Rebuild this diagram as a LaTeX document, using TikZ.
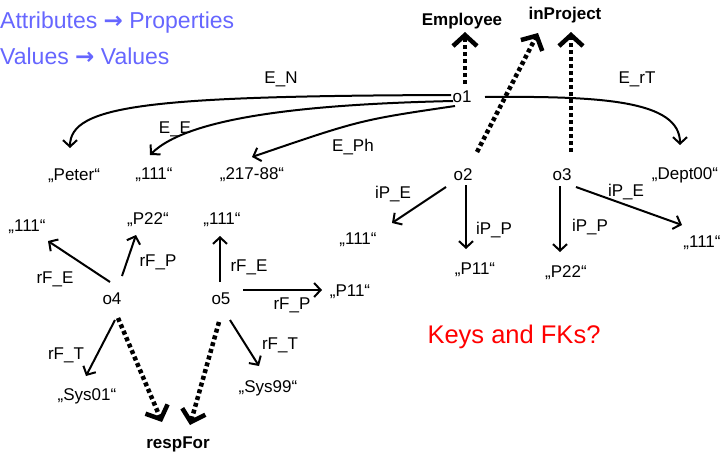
\documentclass[tikz,border=0pt]{standalone}
\usepackage{fontspec}
\setmainfont{Liberation Sans}
\newfontfamily\arrowfont{DejaVu Sans}
\usetikzlibrary{arrows.meta}
\definecolor{hdr}{RGB}{102,102,255}
\definecolor{keyred}{RGB}{255,0,0}
\newcommand\harr{{\arrowfont\bfseries →}}
\begin{document}
\begin{tikzpicture}[x=1pt,y=-1pt,
  txt/.style={anchor=base,inner sep=2pt,font=\fontsize{17}{19}\selectfont},
  cls/.style={anchor=base,inner sep=2pt,font=\fontsize{17}{19}\selectfont\bfseries},
  hdrtxt/.style={anchor=base west,inner sep=0pt,text=hdr,font=\fontsize{23}{25}\selectfont},
  rel/.style={line width=2pt,-{Straight Barb[length=6.5pt,width=14pt]}},
  inst/.style={line width=4.5pt,dash pattern=on 4pt off 3pt,-{Straight Barb[length=11pt,width=24pt]}},
]
\useasboundingbox (0,0) rectangle (724,453);

% header
\node[hdrtxt] (h1) at (0,28) {Attributes \harr\ Properties};
\node[hdrtxt] (h2) at (0,64) {Values \harr\ Values};

% classes
\node[cls] (emp) at (462,25) {Employee};
\node[cls] (inp) at (565,19) {inProject};
\node[cls] (rf) at (178,448) {respFor};

% objects
\node[txt] (o1) at (462,102) {o1};
\node[txt] (o2) at (463,180) {o2};
\node[txt] (o3) at (562,180) {o3};
\node[txt] (o4) at (112,304) {o4};
\node[txt] (o5) at (221,304) {o5};

% values
\node[txt] (peter) at (74,180) {„Peter“};
\node[txt] (t111) at (154,179) {„111“};
\node[txt] (ph) at (252,179) {„217-88“};
\node[txt] (dept) at (685,179) {„Dept00“};
\node[txt] (m2) at (358,244) {„111“};
\node[txt] (p11b) at (475,274) {„P11“};
\node[txt] (p22b) at (566,277) {„P22“};
\node[txt] (r111) at (702,247) {„111“};
\node[txt] (l111) at (27,231) {„111“};
\node[txt] (p22a) at (148,224) {„P22“};
\node[txt] (m111) at (222,224) {„111“};
\node[txt] (p11c) at (350,296) {„P11“};
\node[txt] (sys01) at (87,400) {„Sys01“};
\node[txt] (sys99) at (268,392) {„Sys99“};

% edge labels
\node[txt] (lEN) at (281,83) {E\_N};
\node[txt] (lErT) at (637,83) {E\_rT};
\node[txt] (lEE) at (175,133) {E\_E};
\node[txt] (lEPh) at (353,151) {E\_Ph};
\node[txt] (liPE2) at (393,198) {iP\_E};
\node[txt] (liPE3) at (626,196) {iP\_E};
\node[txt] (liPP2) at (494,234) {iP\_P};
\node[txt] (liPP3) at (590,231) {iP\_P};
\node[txt] (lrFE4) at (55,283) {rF\_E};
\node[txt] (lrFP4) at (158,266) {rF\_P};
\node[txt] (lrFE5) at (249,271) {rF\_E};
\node[txt] (lrFP5) at (292,309) {rF\_P};
\node[txt] (lrFT4) at (66,359) {rF\_T};
\node[txt] (lrFT5) at (280,349) {rF\_T};

\node[anchor=base,inner sep=0pt,text=keyred,font=\fontsize{25.5}{28}\selectfont] (keys) at (514,343) {Keys and FKs?};

% instance-of arrows
\draw[inst] ([xshift=3pt,yshift=18pt]o1.base) -- ([xshift=3pt,yshift=-7pt]emp.base);
\draw[inst] ([xshift=14pt,yshift=28pt]o2.base) -- ([xshift=-27pt,yshift=-14pt]inp.base);
\draw[inst] ([xshift=9pt,yshift=28pt]o3.base) -- ([xshift=6pt,yshift=-13pt]inp.base);
\draw[inst] ([xshift=6pt,yshift=-14pt]o4.base) -- ([xshift=-16pt,yshift=26pt]rf.base);
\draw[inst] ([xshift=-2pt,yshift=-18pt]o5.base) -- ([xshift=12pt,yshift=23pt]rf.base);

% o1 properties
\draw[rel] ([xshift=23pt,yshift=5pt]o1.base) .. controls (600,96) and (680,100) .. ([xshift=-5pt,yshift=34pt]dept.base);
\draw[rel] ([xshift=-11pt,yshift=7pt]o1.base) .. controls (150,96) and (70,105) .. ([xshift=-4pt,yshift=32pt]peter.base);
\draw[rel] ([xshift=-9pt,yshift=1pt]o1.base) .. controls (320,104) and (190,115) .. ([xshift=-4pt,yshift=24pt]t111.base);
\draw[rel] ([xshift=-7pt,yshift=-4pt]o1.base) .. controls (360,120) .. ([yshift=22pt]ph.base);

% o2, o3
\draw[rel] ([xshift=-17pt,yshift=-7pt]o2.base) -- ([xshift=34pt,yshift=21pt]m2.base);
\draw[rel] ([xshift=3pt,yshift=-5pt]o2.base) -- ([xshift=-9pt,yshift=25pt]p11b.base);
\draw[rel] ([xshift=-2pt,yshift=-6pt]o3.base) -- ([xshift=-6pt,yshift=25pt]p22b.base);
\draw[rel] ([xshift=14pt,yshift=-7pt]o3.base) -- ([xshift=-20pt,yshift=22pt]r111.base);

% o4, o5
\draw[rel] ([xshift=-2pt,yshift=22pt]o4.base) -- ([xshift=21pt,yshift=-10pt]l111.base);
\draw[rel] ([xshift=10pt,yshift=28pt]o4.base) -- ([xshift=-12pt,yshift=-11pt]p22a.base);
\draw[rel] ([xshift=3pt,yshift=-16pt]o4.base) -- ([xshift=-1pt,yshift=24pt]sys01.base);
\draw[rel] ([xshift=-1pt,yshift=22pt]o5.base) -- ([xshift=-2pt,yshift=-12pt]m111.base);
\draw[rel] ([xshift=22pt,yshift=14pt]o5.base) -- ([xshift=-28pt,yshift=6pt]p11c.base);
\draw[rel] ([xshift=9pt,yshift=-16pt]o5.base) -- ([xshift=-9pt,yshift=26pt]sys99.base);
\end{tikzpicture}
\end{document}
